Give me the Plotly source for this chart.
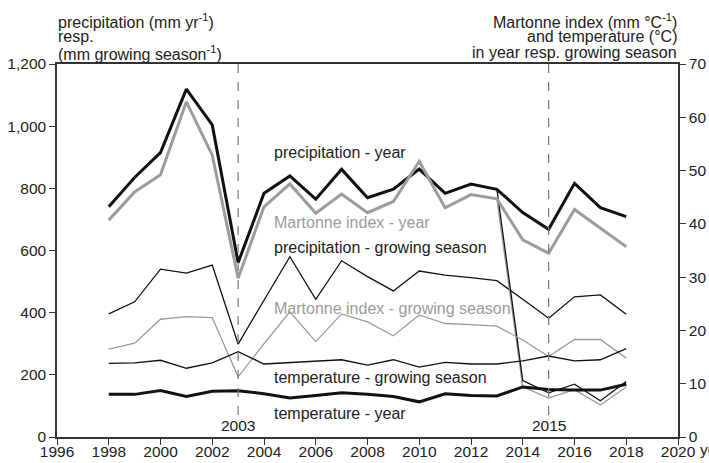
import plotly.graph_objects as go

YEARS = list(range(1998, 2019))

# left axis (mm)
PRECIP_YEAR = [741, 835, 915, 1119, 1004, 561, 784, 840, 765, 861, 770,
               797, 862, 784, 814, 797, 722, 668, 816, 738, 709]
PRECIP_GS = [396, 435, 540, 527, 553, 299, 440, 580, 443, 567, 516,
             470, 534, 521, 513, 503, 443, 382, 451, 457, 395]

# right axis (Martonne index / degC)
MARTONNE_YEAR = [40.7, 46.0, 49.2, 62.9, 52.9, 29.8, 43.2, 47.5, 42.0, 45.6, 42.1,
                 44.2, 51.7, 43.0, 45.5, 44.7, 37.0, 34.5, 42.7, 39.2, 35.7]
MARTONNE_GS = [16.5, 17.6, 22.1, 22.6, 22.4, 11.3, 17.5, 23.5, 17.9, 23.1, 21.6,
               19.0, 22.9, 21.3, 21.1, 20.8, 18.2, 15.1, 18.3, 18.3, 14.8]
TEMP_GS = [13.8, 13.9, 14.4, 12.9, 13.9, 16.0, 13.7, 14.0, 14.3, 14.5, 13.5,
           14.5, 13.1, 14.0, 13.7, 13.7, 14.3, 15.2, 14.3, 14.5, 16.6]
TEMP_YEAR = [8.0, 8.0, 8.7, 7.6, 8.6, 8.7, 8.1, 7.3, 7.8, 8.3, 8.0,
             7.6, 6.6, 8.1, 7.8, 7.7, 9.4, 8.9, 8.8, 8.8, 9.9]

# stray thin lines dropping after 2013 (as drawn in the original)
DROP_YEARS = [2013, 2014, 2015, 2016, 2017, 2018]
DROP_BLACK = [46.5, 10.6, 8.3, 9.9, 6.8, 10.4]
DROP_GREY = [44.7, 9.4, 7.3, 8.9, 6.0, 9.4]

MARKED_YEARS = [2003, 2015]
X_TICKS = list(range(1996, 2021, 2))

LEFT_TITLE = ["precipitation (mm yr<sup>-1</sup>)", "resp.",
              "(mm growing season<sup>-1</sup>)"]
RIGHT_TITLE = ["Martonne index (mm °C<sup>-1</sup>)", "and temperature (°C)",
               "in year resp. growing season"]

BLACK = "#111111"
GREY = "#9c9c9c"
TEXT = "#222222"
FONT = "Arial, Liberation Sans, sans-serif"

# plot box in pixels: x 57..678, y 64..437
PLOT_TOP, PLOT_BOTTOM = 64, 437


def ypaper(py):
    return (PLOT_BOTTOM - py) / (PLOT_BOTTOM - PLOT_TOP)


fig = go.Figure()


def add_line(x, y, color, width, axis="y"):
    fig.add_trace(go.Scatter(x=x, y=y, mode="lines", yaxis=axis,
                             line=dict(color=color, width=width),
                             showlegend=False, hoverinfo="skip"))


add_line(DROP_YEARS, DROP_GREY, GREY, 1.3, "y2")
add_line(DROP_YEARS, DROP_BLACK, BLACK, 1.3, "y2")
add_line(YEARS, MARTONNE_GS, GREY, 1.3, "y2")
add_line(YEARS, TEMP_GS, BLACK, 1.3, "y2")
add_line(YEARS, PRECIP_GS, BLACK, 1.3)
add_line(YEARS, TEMP_YEAR, BLACK, 3, "y2")
add_line(YEARS, MARTONNE_YEAR, GREY, 3, "y2")
add_line(YEARS, PRECIP_YEAR, BLACK, 3)


def note(txt, x, py, xanchor, size, color=TEXT, xref="paper"):
    # yanchor set explicitly: "auto" flips to top/bottom near paper edges
    fig.add_annotation(x=x, xref=xref, y=ypaper(py), yref="paper", text=txt,
                       showarrow=False, xanchor=xanchor, yanchor="middle",
                       font=dict(size=size, color=color))


for yr in MARKED_YEARS:
    fig.add_shape(type="line", x0=yr, x1=yr, xref="x", yref="paper",
                  y0=ypaper(415), y1=1,
                  line=dict(color="#777777", width=1.2, dash="dash"))
    note(str(yr), yr, 425, "center", 15.5, xref="x")

labels = [
    ("precipitation - year", 152, TEXT),
    ("Martonne index - year", 223, GREY),
    ("precipitation - growing season", 247, TEXT),
    ("Martonne index - growing season", 308, GREY),
    ("temperature - growing season", 377, TEXT),
    ("temperature - year", 413, TEXT),
]
for txt, py, col in labels:
    note(txt, 2004.3, py, "left", 16, col, xref="x")

for txt, py in zip(LEFT_TITLE, [21, 37, 52.5]):
    note(txt, -0.002, py, "left", 16)
for txt, py in zip(RIGHT_TITLE, [21, 37, 52.5]):
    note(txt, 1.002, py, "right", 16)
note("year", 1.033, 449, "left", 15.5)

axis_style = dict(showline=True, linecolor="#333333", linewidth=1.5,
                  ticks="outside", ticklen=6, tickcolor="#333333",
                  tickfont=dict(size=15.5, color=TEXT), showgrid=False,
                  zeroline=False, automargin=False)

fig.update_layout(
    width=709, height=463,
    paper_bgcolor="white", plot_bgcolor="white",
    font=dict(family=FONT, color=TEXT),
    margin=dict(l=57, r=31, t=PLOT_TOP, b=463 - PLOT_BOTTOM),
    xaxis=dict(range=[1996, 2020], tickvals=X_TICKS, mirror=True,
               ticklabelstandoff=-6, **axis_style),
    yaxis=dict(range=[0, 1200], dtick=200, tickformat=",", **axis_style),
    yaxis2=dict(range=[0, 70], dtick=10, overlaying="y", side="right", **axis_style),
)

# the page body has a default 8px margin; drop it so the figure sits at 0,0
fig.write_html("out.html", config={"displayModeBar": False},
               post_script="document.body.style.margin='0';")
